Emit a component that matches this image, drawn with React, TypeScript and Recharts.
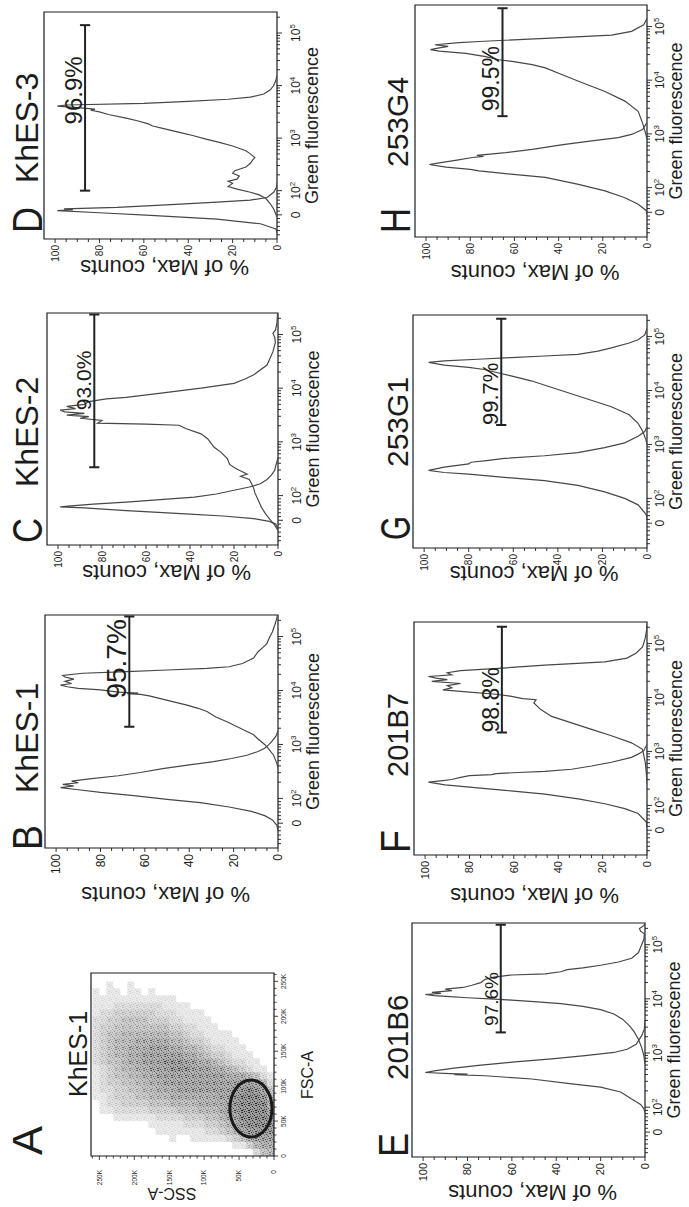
import React from 'react';
import { ComposedChart, Line, XAxis, YAxis, ReferenceArea, ReferenceLine, Scatter } from 'recharts';

const FONT = '"Liberation Sans", Arial, Helvetica, sans-serif';
const INK = '#1c1c1c';
const CURVE = '#474747';

// ---------- fluorescence axis (display decades of a biexponential scale: 0 -> 1.54, 10^n -> n)
const FL_DOMAIN: [number, number] = [1.08, 5.4];
const FL_MAJOR = [1.54, 2, 3, 4, 5];
const FL_MAJOR_BASE = ['0', '10', '10', '10', '10'];
const FL_MAJOR_EXP = ['', '2', '3', '4', '5'];
const FL_MINOR_LINEAR = [1.16, 1.24, 1.32, 1.4, 1.47, 1.61, 1.68, 1.75, 1.82, 1.88, 1.94];
const FL_MINOR_MULT = [2, 3, 4, 5, 6, 7, 8, 9];
const FL_MINOR_DECADES = [2, 3, 4];
const FL_TICKS = [
  ...FL_MAJOR,
  ...FL_MINOR_LINEAR,
  ...FL_MINOR_DECADES.flatMap((k) => FL_MINOR_MULT.map((m) => k + Math.log10(m))),
  5 + Math.log10(2),
].sort((a, b) => a - b);

const PCT_DOMAIN: [number, number] = [0, 105];
const PCT_TICKS = [0, 5, 10, 15, 20, 25, 30, 35, 40, 45, 50, 55, 60, 65, 70, 75, 80, 85, 90, 95, 100];

// ---------- histogram series  [display decade, % of max]
const B_CTRL = [[1.4,0],[1.5,0.5],[1.6,2.5],[1.68,6],[1.76,12],[1.84,22],[1.92,35],[1.98,50],[2.05,65],[2.11,80],[2.16,90],[2.2,98],[2.23,92],[2.26,97],[2.29,90],[2.32,93],[2.36,85],[2.42,72],[2.48,62],[2.55,52],[2.62,40],[2.68,29],[2.74,21],[2.8,14],[2.87,9],[2.93,6],[3.0,4],[3.07,2.5],[3.15,1],[3.25,0]];
const B_SAMPLE = [[2.55,0],[2.65,0.5],[2.8,2],[2.93,4.5],[3.0,6],[3.1,9],[3.18,11],[3.3,17],[3.42,23],[3.51,28],[3.61,32],[3.67,36],[3.73,41],[3.79,47],[3.85,53],[3.9,58],[3.93,62],[3.94,68],[3.95,63],[3.97,72],[4.01,80],[4.04,90],[4.07,95],[4.1,98],[4.13,93],[4.17,96],[4.21,92],[4.25,96],[4.28,97],[4.32,88],[4.35,68],[4.38,50],[4.41,32],[4.44,22],[4.5,16],[4.6,11],[4.72,9],[4.79,7],[4.87,5],[4.97,4],[5.09,2.5],[5.21,1.5],[5.34,0.5],[5.4,0.3]];

const C_CTRL = [[1.38,0],[1.47,1],[1.52,4],[1.57,11],[1.62,25],[1.66,42],[1.72,69],[1.77,88],[1.79,99],[1.81,94],[1.84,84],[1.88,69],[1.93,52],[1.97,38],[2.03,28],[2.1,20],[2.16,13],[2.22,8],[2.3,5],[2.38,3],[2.47,1.5],[2.56,1],[2.7,0]];
const C_SAMPLE = [[1.35,0],[1.45,1.5],[1.55,3.5],[1.65,5.5],[1.78,7.5],[1.92,9],[2.05,10.5],[2.13,11],[2.22,12],[2.3,13],[2.36,17],[2.4,14],[2.44,16],[2.5,19],[2.58,22],[2.69,23],[2.81,26],[2.9,29],[3.06,32],[3.15,35],[3.25,42],[3.31,45],[3.33,60],[3.35,82],[3.4,80],[3.44,90],[3.47,86],[3.5,96],[3.53,88],[3.56,97],[3.59,99],[3.62,92],[3.66,96],[3.7,88],[3.75,86],[3.8,78],[3.83,69],[3.9,55],[4.0,35],[4.09,20],[4.17,15],[4.25,11],[4.43,5],[4.68,2.3],[4.85,1.2],[4.95,1.5],[5.02,2.3],[5.08,1.2],[5.2,0.5],[5.4,0.2]];

const D_CTRL = [[1.2,0],[1.27,0.5],[1.37,7.5],[1.46,27],[1.53,57],[1.58,80],[1.62,99],[1.64,92],[1.655,96],[1.68,72],[1.73,50],[1.78,27],[1.82,12],[1.87,4.5],[1.97,1.5],[2.06,0.3],[2.15,0]];
const D_SAMPLE = [[1.5,0],[1.65,1.5],[1.75,3],[1.85,5],[1.92,8],[1.97,12],[2.03,18],[2.08,22],[2.11,21],[2.14,20],[2.18,22],[2.22,18],[2.28,17],[2.33,20],[2.38,19],[2.45,14],[2.52,12],[2.58,11],[2.63,10],[2.7,12],[2.76,14],[2.85,20],[2.92,26],[2.98,32],[3.05,38],[3.11,44],[3.19,52],[3.23,56],[3.27,58],[3.33,63],[3.38,68],[3.45,76],[3.5,80],[3.53,84],[3.55,82],[3.58,90],[3.61,99],[3.63,95],[3.66,60],[3.7,40],[3.74,22],[3.78,12],[3.84,6],[3.92,3],[4.0,1.5],[4.1,0.5],[4.2,0]];

const E_CTRL = [[1.9,0],[1.97,0.5],[2.05,2],[2.15,6],[2.28,11],[2.37,20],[2.43,33],[2.52,51],[2.58,72],[2.6,86],[2.61,80],[2.62,88],[2.64,99],[2.67,95],[2.72,86],[2.77,75],[2.83,60],[2.89,42],[2.95,27],[3.01,14],[3.07,8],[3.16,4],[3.32,1.5],[3.44,0.3],[3.6,0]];
const E_SAMPLE = [[2.8,0],[2.95,0.5],[3.1,1.5],[3.26,3],[3.4,5],[3.5,7],[3.62,10],[3.72,14],[3.8,20],[3.86,28],[3.91,38],[3.95,50],[3.98,62],[4.0,70],[4.02,80],[4.04,88],[4.06,95],[4.08,99],[4.1,92],[4.12,96],[4.15,87],[4.18,90],[4.21,82],[4.25,78],[4.3,74],[4.36,72],[4.4,68],[4.44,60],[4.46,45],[4.5,38],[4.54,35],[4.57,28],[4.62,20],[4.68,12],[4.75,6],[4.85,3],[5.0,1.5],[5.1,0.5],[5.2,0.3],[5.25,2],[5.3,2.5],[5.35,0.5],[5.4,0]];

const F_CTRL = [[1.6,0],[1.69,0.3],[1.85,4],[1.94,10],[2.03,19],[2.12,31],[2.21,46],[2.28,64],[2.34,80],[2.36,86],[2.38,91],[2.43,98.5],[2.46,92],[2.48,88],[2.52,84],[2.55,80],[2.57,70],[2.59,68],[2.61,58],[2.63,46],[2.67,34],[2.73,25],[2.8,16],[2.89,7],[2.95,4],[3.01,1.5],[3.13,0]];
const F_SAMPLE = [[2.4,0],[2.6,0.3],[2.8,0.8],[3.04,2],[3.16,7],[3.29,16],[3.41,25],[3.53,34],[3.65,43],[3.78,48],[3.9,51],[3.96,50],[3.98,56],[4.02,61],[4.06,68],[4.1,80],[4.14,92],[4.18,88],[4.22,90],[4.26,84],[4.3,97],[4.33,90],[4.36,95],[4.39,98.5],[4.42,88],[4.46,90],[4.5,84],[4.54,67],[4.6,46],[4.66,19],[4.73,9],[4.82,5],[4.94,2],[5.1,0.8],[5.25,0.2],[5.35,0]];

const G_CTRL = [[1.6,0],[1.7,0.3],[1.88,4],[2.0,10],[2.12,19],[2.24,31],[2.33,46],[2.39,64],[2.45,80],[2.48,91],[2.52,98],[2.58,91],[2.64,80],[2.67,79],[2.7,72],[2.74,64],[2.79,46],[2.85,31],[2.94,19],[3.03,10],[3.15,4],[3.24,1],[3.33,0]];
const G_SAMPLE = [[3.0,0],[3.09,0.5],[3.25,2],[3.39,4],[3.55,8],[3.7,16],[3.82,25],[3.94,34],[4.06,43],[4.18,52],[4.27,61],[4.33,67],[4.39,73],[4.43,80],[4.47,91],[4.52,98],[4.55,91],[4.58,76],[4.61,61],[4.64,46],[4.67,31],[4.73,22],[4.79,16],[4.88,8],[4.94,4],[5.03,1],[5.15,0]];

const H_CTRL = [[1.5,0],[1.57,0.3],[1.69,4],[1.81,10],[1.94,19],[2.06,31],[2.19,46],[2.26,64],[2.31,76],[2.34,80],[2.38,91],[2.43,98.5],[2.46,94],[2.51,86],[2.56,79],[2.58,74],[2.6,77],[2.65,64],[2.71,52],[2.8,38],[2.87,25],[2.93,13],[2.99,7],[3.08,2],[3.21,0]];
const H_SAMPLE = [[2.9,0],[2.99,0.5],[3.2,2],[3.42,4],[3.61,10],[3.79,19],[3.98,31],[4.13,40],[4.23,46],[4.29,52],[4.35,61],[4.38,67],[4.44,73],[4.5,82],[4.54,94],[4.57,98],[4.6,94],[4.63,90],[4.66,96],[4.7,85],[4.72,76],[4.78,46],[4.84,16],[4.91,7],[5.03,1.5],[5.15,0]];

// gates
const GATE_LABELS = ['95.7%', '93.0%', '96.9%', '97.6%', '98.8%', '99.7%', '99.5%'];
const GATE_PCT = [67, 83.5, 86.5, 65, 65.4, 65.4, 65.4];
const GATE_FROM = [3.33, 2.53, 2.0, 3.38, 3.35, 3.36, 3.33];
const GATE_TO = [5.37, 5.37, 5.15, 5.37, 5.31, 5.33, 5.34];
const GATE_TEXT_START = [3.85, 3.59, 3.26, 3.5, 3.35, 3.36, 3.42];
const GATE_TEXT_SIZE = [28, 21, 24, 19, 23, 22, 23];

// ---------- panel A: FSC-A / SSC-A density (10K bins; rows = FSC bins, chars = SSC bins, 0-9)
const A_AX_DOMAIN: [number, number] = [0, 262];
const A_TICKS = [0,10,20,30,40,50,60,70,80,90,100,110,120,130,140,150,160,170,180,190,200,210,220,230,240,250,260];
const A_DENSITY = [
  '54200000000000000000000000',
  '66531100000000000000000000',
  '77764321111100100000000000',
  '88887543221111111000000000',
  '89998754332221111100000000',
  '89999765443332222111111000',
  '79999876555444333322222110',
  '69999876666555544433332210',
  '58999877666666655544333211',
  '47898877777777666554433221',
  '25777777777777776655443321',
  '12456667777777777665544321',
  '01123456677788877766554321',
  '00112234566778887776654432',
  '00011123345667777776655432',
  '00001112234556677766655432',
  '00000111123345566666555432',
  '00000011112234455555554432',
  '00000000111223344444444332',
  '00000000011112233344443322',
  '00000000001111222333333221',
  '00000000000011112222222111',
  '00000000000000111111111111',
  '00000000000000000101101101',
  '00000000000000000000100100',
  '00000000000000000000000000',
];
const A_BIN = 10;
// gate ellipse vertices [FSC K, SSC K]
const A_GATE = [[110,33],[106.8,44.9],[97.7,54.9],[84.1,61.6],[68,64],[51.9,61.6],[38.3,54.9],[29.2,44.9],[26,33],[29.2,21.1],[38.3,11.1],[51.9,4.4],[68,2],[84.1,4.4],[97.7,11.1],[106.8,21.1]];

// speck positions in a 7x7 texture tile (styling for the density texture)
const SPECKS = [[0,0],[3,1],[5,0],[1,3],[4,3],[6,4],[2,5],[5,6],[0,6],[3,4],[6,2],[1,1]];

type Pair = number[];
interface HistCfg {
  ctrl: Pair[]; sample: Pair[]; g: number;
  left: number; top: number; w: number; h: number;
  yTickFont: number; yLabelOff: number; xTickOff: number; xLabelOff: number;
}

const HIST: HistCfg[] = [
  { ctrl: B_CTRL, sample: B_SAMPLE, g: 0, left: 359, top: 45, w: 233, h: 233, yTickFont: 12, yLabelOff: 46, xTickOff: 23, xLabelOff: 41 },
  { ctrl: C_CTRL, sample: C_SAMPLE, g: 1, left: 662, top: 47, w: 232, h: 231, yTickFont: 10, yLabelOff: 27, xTickOff: 23, xLabelOff: 41 },
  { ctrl: D_CTRL, sample: D_SAMPLE, g: 2, left: 968, top: 44, w: 227, h: 233, yTickFont: 10, yLabelOff: 28, xTickOff: 23, xLabelOff: 41 },
  { ctrl: E_CTRL, sample: E_SAMPLE, g: 3, left: 50, top: 412, w: 234, h: 233, yTickFont: 11, yLabelOff: 35, xTickOff: 17, xLabelOff: 35 },
  { ctrl: F_CTRL, sample: F_SAMPLE, g: 4, left: 352, top: 414, w: 233, h: 233, yTickFont: 11, yLabelOff: 40, xTickOff: 17, xLabelOff: 35 },
  { ctrl: G_CTRL, sample: G_SAMPLE, g: 5, left: 659, top: 413, w: 233, h: 234, yTickFont: 10, yLabelOff: 25, xTickOff: 17, xLabelOff: 35 },
  { ctrl: H_CTRL, sample: H_SAMPLE, g: 6, left: 970, top: 415, w: 232, h: 232, yTickFont: 10, yLabelOff: 35, xTickOff: 17, xLabelOff: 35 },
];

const A_FRAME = { left: 51, top: 91, w: 183, h: 183 };

const LETTERS = [
  { t: 'A', u: 52, v: 42, len: 29 }, { t: 'B', u: 357, v: 42, len: 25 }, { t: 'C', u: 664, v: 42, len: 25 }, { t: 'D', u: 974, v: 42, len: 26 },
  { t: 'E', u: 50, v: 408, len: 24 }, { t: 'F', u: 354, v: 410, len: 23 }, { t: 'G', u: 667, v: 410, len: 24 }, { t: 'H', u: 974, v: 410, len: 25 },
];
const TITLES = [
  { t: 'KhES-1', u: 110, v: 87, s: 25 },
  { t: 'KhES-1', u: 414, v: 38, s: 32 }, { t: 'KhES-2', u: 720, v: 38, s: 32 }, { t: 'KhES-3', u: 1024, v: 38, s: 32 },
  { t: '201B6', u: 127, v: 408, s: 29.5 }, { t: '201B7', u: 430, v: 408, s: 29 }, { t: '253G1', u: 740, v: 408, s: 30 }, { t: '253G4', u: 1040, v: 408, s: 30 },
];

const YW = 60, XH = 50, MT = 10, MR = 12;

function FlTick(props: any) {
  const { x, y, payload, labelDy } = props;
  const v = payload.value;
  const i = FL_MAJOR.findIndex((m) => Math.abs(m - v) < 1e-6);
  const major = i >= 0;
  return (
    <g>
      <line x1={x} x2={x} y1={y} y2={y + (major ? 5 : 3)} stroke={INK} strokeWidth={0.9} />
      {major && (
        <text x={x} y={y + labelDy} textAnchor="middle" fontFamily={FONT} fontSize={12} fill={INK}>
          {FL_MAJOR_BASE[i]}
          {FL_MAJOR_EXP[i] ? <tspan dy={-5} fontSize={8}>{FL_MAJOR_EXP[i]}</tspan> : null}
        </text>
      )}
    </g>
  );
}

function PctTick(props: any) {
  const { x, y, payload, fontSize } = props;
  const v = payload.value;
  const labelled = v % 20 === 0;
  return (
    <g>
      <line x1={x - (labelled ? 4 : 3)} x2={x} y1={y} y2={y} stroke={INK} strokeWidth={0.9} />
      {labelled && (
        <text x={x - 6} y={y} dy="0.35em" textAnchor="end" fontFamily={FONT} fontSize={fontSize} fill={INK}>{v}</text>
      )}
    </g>
  );
}

function KTickX(props: any) {
  const { x, y, payload } = props;
  const v = payload.value;
  const major = v % 50 === 0;
  return (
    <g>
      <line x1={x} x2={x} y1={y} y2={y + (major ? 4 : 2.5)} stroke={INK} strokeWidth={0.8} />
      {major && (
        <text x={x} y={y + 12} textAnchor="middle" fontFamily={FONT} fontSize={6.5} fill={INK}>{v === 0 ? '0' : `${v}K`}</text>
      )}
    </g>
  );
}

function KTickY(props: any) {
  const { x, y, payload } = props;
  const v = payload.value;
  const major = v % 50 === 0;
  return (
    <g>
      <line x1={x - (major ? 4 : 2.5)} x2={x} y1={y} y2={y} stroke={INK} strokeWidth={0.8} />
      {major && (
        <text x={x - 14} y={y} dy="0.35em" textAnchor="end" fontFamily={FONT} fontSize={6.5} fill={INK}>{v === 0 ? '0' : `${v}K`}</text>
      )}
    </g>
  );
}

function HistPanel({ p }: { p: HistCfg }) {
  const ctrl = p.ctrl.map(([x, y]) => ({ x, y }));
  const smp = p.sample.map(([x, y]) => ({ x, y }));
  const gp = GATE_PCT[p.g];
  const gf = GATE_FROM[p.g];
  const gt = GATE_TO[p.g];
  const labelPt = [{ x: GATE_TEXT_START[p.g], y: gp }];
  const fs = GATE_TEXT_SIZE[p.g];
  return (
    <div style={{ position: 'absolute', left: p.left - YW, top: p.top - MT }}>
      <ComposedChart width={YW + p.w + MR} height={MT + p.h + XH} margin={{ top: MT, right: MR, bottom: 0, left: 0 }}>
        <XAxis type="number" dataKey="x" domain={FL_DOMAIN} ticks={FL_TICKS} interval={0} allowDataOverflow
          axisLine={false} tickLine={false} tickSize={0} tickMargin={0} height={XH}
          tick={(t: any) => <FlTick {...t} labelDy={p.xTickOff} />} />
        <YAxis type="number" dataKey="y" domain={PCT_DOMAIN} ticks={PCT_TICKS} interval={0} allowDataOverflow
          axisLine={false} tickLine={false} tickSize={0} tickMargin={0} width={YW}
          tick={(t: any) => <PctTick {...t} fontSize={p.yTickFont} />} />
        <Line data={ctrl} dataKey="y" type="linear" stroke={CURVE} strokeWidth={1.2} dot={false} isAnimationActive={false} />
        <Line data={smp} dataKey="y" type="linear" stroke={CURVE} strokeWidth={1.2} dot={false} isAnimationActive={false} />
        <ReferenceLine segment={[{ x: gf, y: gp }, { x: gt, y: gp }]} stroke="#222" strokeWidth={2} />
        <ReferenceLine segment={[{ x: gf, y: gp - 2.3 }, { x: gf, y: gp + 2.3 }]} stroke="#222" strokeWidth={2} />
        <ReferenceLine segment={[{ x: gt, y: gp - 2.3 }, { x: gt, y: gp + 2.3 }]} stroke="#222" strokeWidth={2} />
        <Scatter data={labelPt} dataKey="y" isAnimationActive={false}
          shape={(s: any) => (
            <text x={s.cx} y={s.cy - 3} fontFamily={FONT} fontSize={fs} fill={INK}>{GATE_LABELS[p.g]}</text>
          )} />
        <ReferenceArea x1={FL_DOMAIN[0]} x2={FL_DOMAIN[1]} y1={0} y2={105} fill="none" stroke={INK} strokeWidth={1.2} />
      </ComposedChart>
    </div>
  );
}

function ScatterPanel() {
  const f = A_FRAME;
  const cells: { x1: number; y1: number; lv: number }[] = [];
  A_DENSITY.forEach((row, r) => {
    row.split('').forEach((ch, c) => {
      const lv = Number(ch);
      if (lv > 0) cells.push({ x1: r * A_BIN, y1: c * A_BIN, lv });
    });
  });
  const gate = A_GATE.map(([x, y]) => ({ x, y }));
  return (
    <div style={{ position: 'absolute', left: f.left - YW, top: f.top - MT }}>
      <ComposedChart width={YW + f.w + MR} height={MT + f.h + XH} margin={{ top: MT, right: MR, bottom: 0, left: 0 }}>
        <XAxis type="number" dataKey="x" domain={A_AX_DOMAIN} ticks={A_TICKS} interval={0} allowDataOverflow
          axisLine={false} tickLine={false} tickSize={0} tickMargin={0} height={XH}
          tick={(t: any) => <KTickX {...t} />} />
        <YAxis type="number" dataKey="y" domain={A_AX_DOMAIN} ticks={A_TICKS} interval={0} allowDataOverflow
          axisLine={false} tickLine={false} tickSize={0} tickMargin={0} width={YW}
          tick={(t: any) => <KTickY {...t} />} />
        {cells.map((c, i) => (
          <ReferenceArea key={i} x1={c.x1} x2={c.x1 + A_BIN} y1={c.y1} y2={c.y1 + A_BIN}
            fill="url(#a-stipple)" fillOpacity={0.1 + (c.lv / 9) * 0.9} stroke="none" />
        ))}
        <Scatter data={gate} dataKey="y" isAnimationActive={false} line={{ stroke: '#1a1a1a', strokeWidth: 3 }}
          lineType="joint" lineJointType="basisClosed" shape={() => <g />} />
        <ReferenceArea x1={0} x2={262} y1={0} y2={262} fill="none" stroke={INK} strokeWidth={1.2} />
      </ComposedChart>
    </div>
  );
}

function StippleDefs() {
  return (
    <svg width={0} height={0} style={{ position: 'absolute' }}>
      <defs>
        <pattern id="a-stipple" width={7} height={7} patternUnits="userSpaceOnUse">
          <rect width={7} height={7} fill="#9a9a9a" />
          {SPECKS.map(([sx, sy], j) => (
            <rect key={j} x={sx} y={sy} width={1} height={1} fill={j % 2 === 0 ? '#262626' : '#4a4a4a'} />
          ))}
        </pattern>
      </defs>
    </svg>
  );
}

function Overlay() {
  return (
    <svg width={1207} height={689} style={{ position: 'absolute', left: 0, top: 0, pointerEvents: 'none' }}>
      {LETTERS.map((l) => (
        <text key={l.t} x={l.u} y={l.v} fontFamily={FONT} fontSize={42} fill={INK} textLength={l.len} lengthAdjust="spacingAndGlyphs">{l.t}</text>
      ))}
      {TITLES.map((t, i) => (
        <text key={i} x={t.u} y={t.v} fontFamily={FONT} fontSize={t.s} fill={INK}>{t.t}</text>
      ))}
      {HIST.map((p, i) => {
        const cx = p.left - p.yLabelOff;
        const cy = p.top + p.h / 2 + 4;
        return (
          <g key={i}>
            <text x={cx} y={cy} transform={`rotate(-90 ${cx} ${cy})`} textAnchor="middle" dominantBaseline="central"
              fontFamily={FONT} fontSize={22} fill={INK}>% of Max, counts</text>
            <text x={p.left + p.w / 2} y={p.top + p.h + p.xLabelOff} textAnchor="middle" fontFamily={FONT} fontSize={18} fill={INK}>
              Green fluorescence
            </text>
          </g>
        );
      })}
      <text x={14} y={172} transform="rotate(-90 14 172)" textAnchor="middle" dominantBaseline="central" fontFamily={FONT} fontSize={16} fill={INK}>SSC-A</text>
      <text x={132} y={313} textAnchor="middle" fontFamily={FONT} fontSize={16} fill={INK}>FSC-A</text>
    </svg>
  );
}

export default function App() {
  return (
    <div style={{ position: 'fixed', left: 0, top: 0, width: 689, height: 1207, overflow: 'hidden', background: '#fff' }}>
      <div style={{ position: 'absolute', left: 0, top: 1207, width: 1207, height: 689, transformOrigin: '0 0', transform: 'rotate(-90deg)' }}>
        <StippleDefs />
        <ScatterPanel />
        {HIST.map((p, i) => <HistPanel key={i} p={p} />)}
        <Overlay />
      </div>
    </div>
  );
}
